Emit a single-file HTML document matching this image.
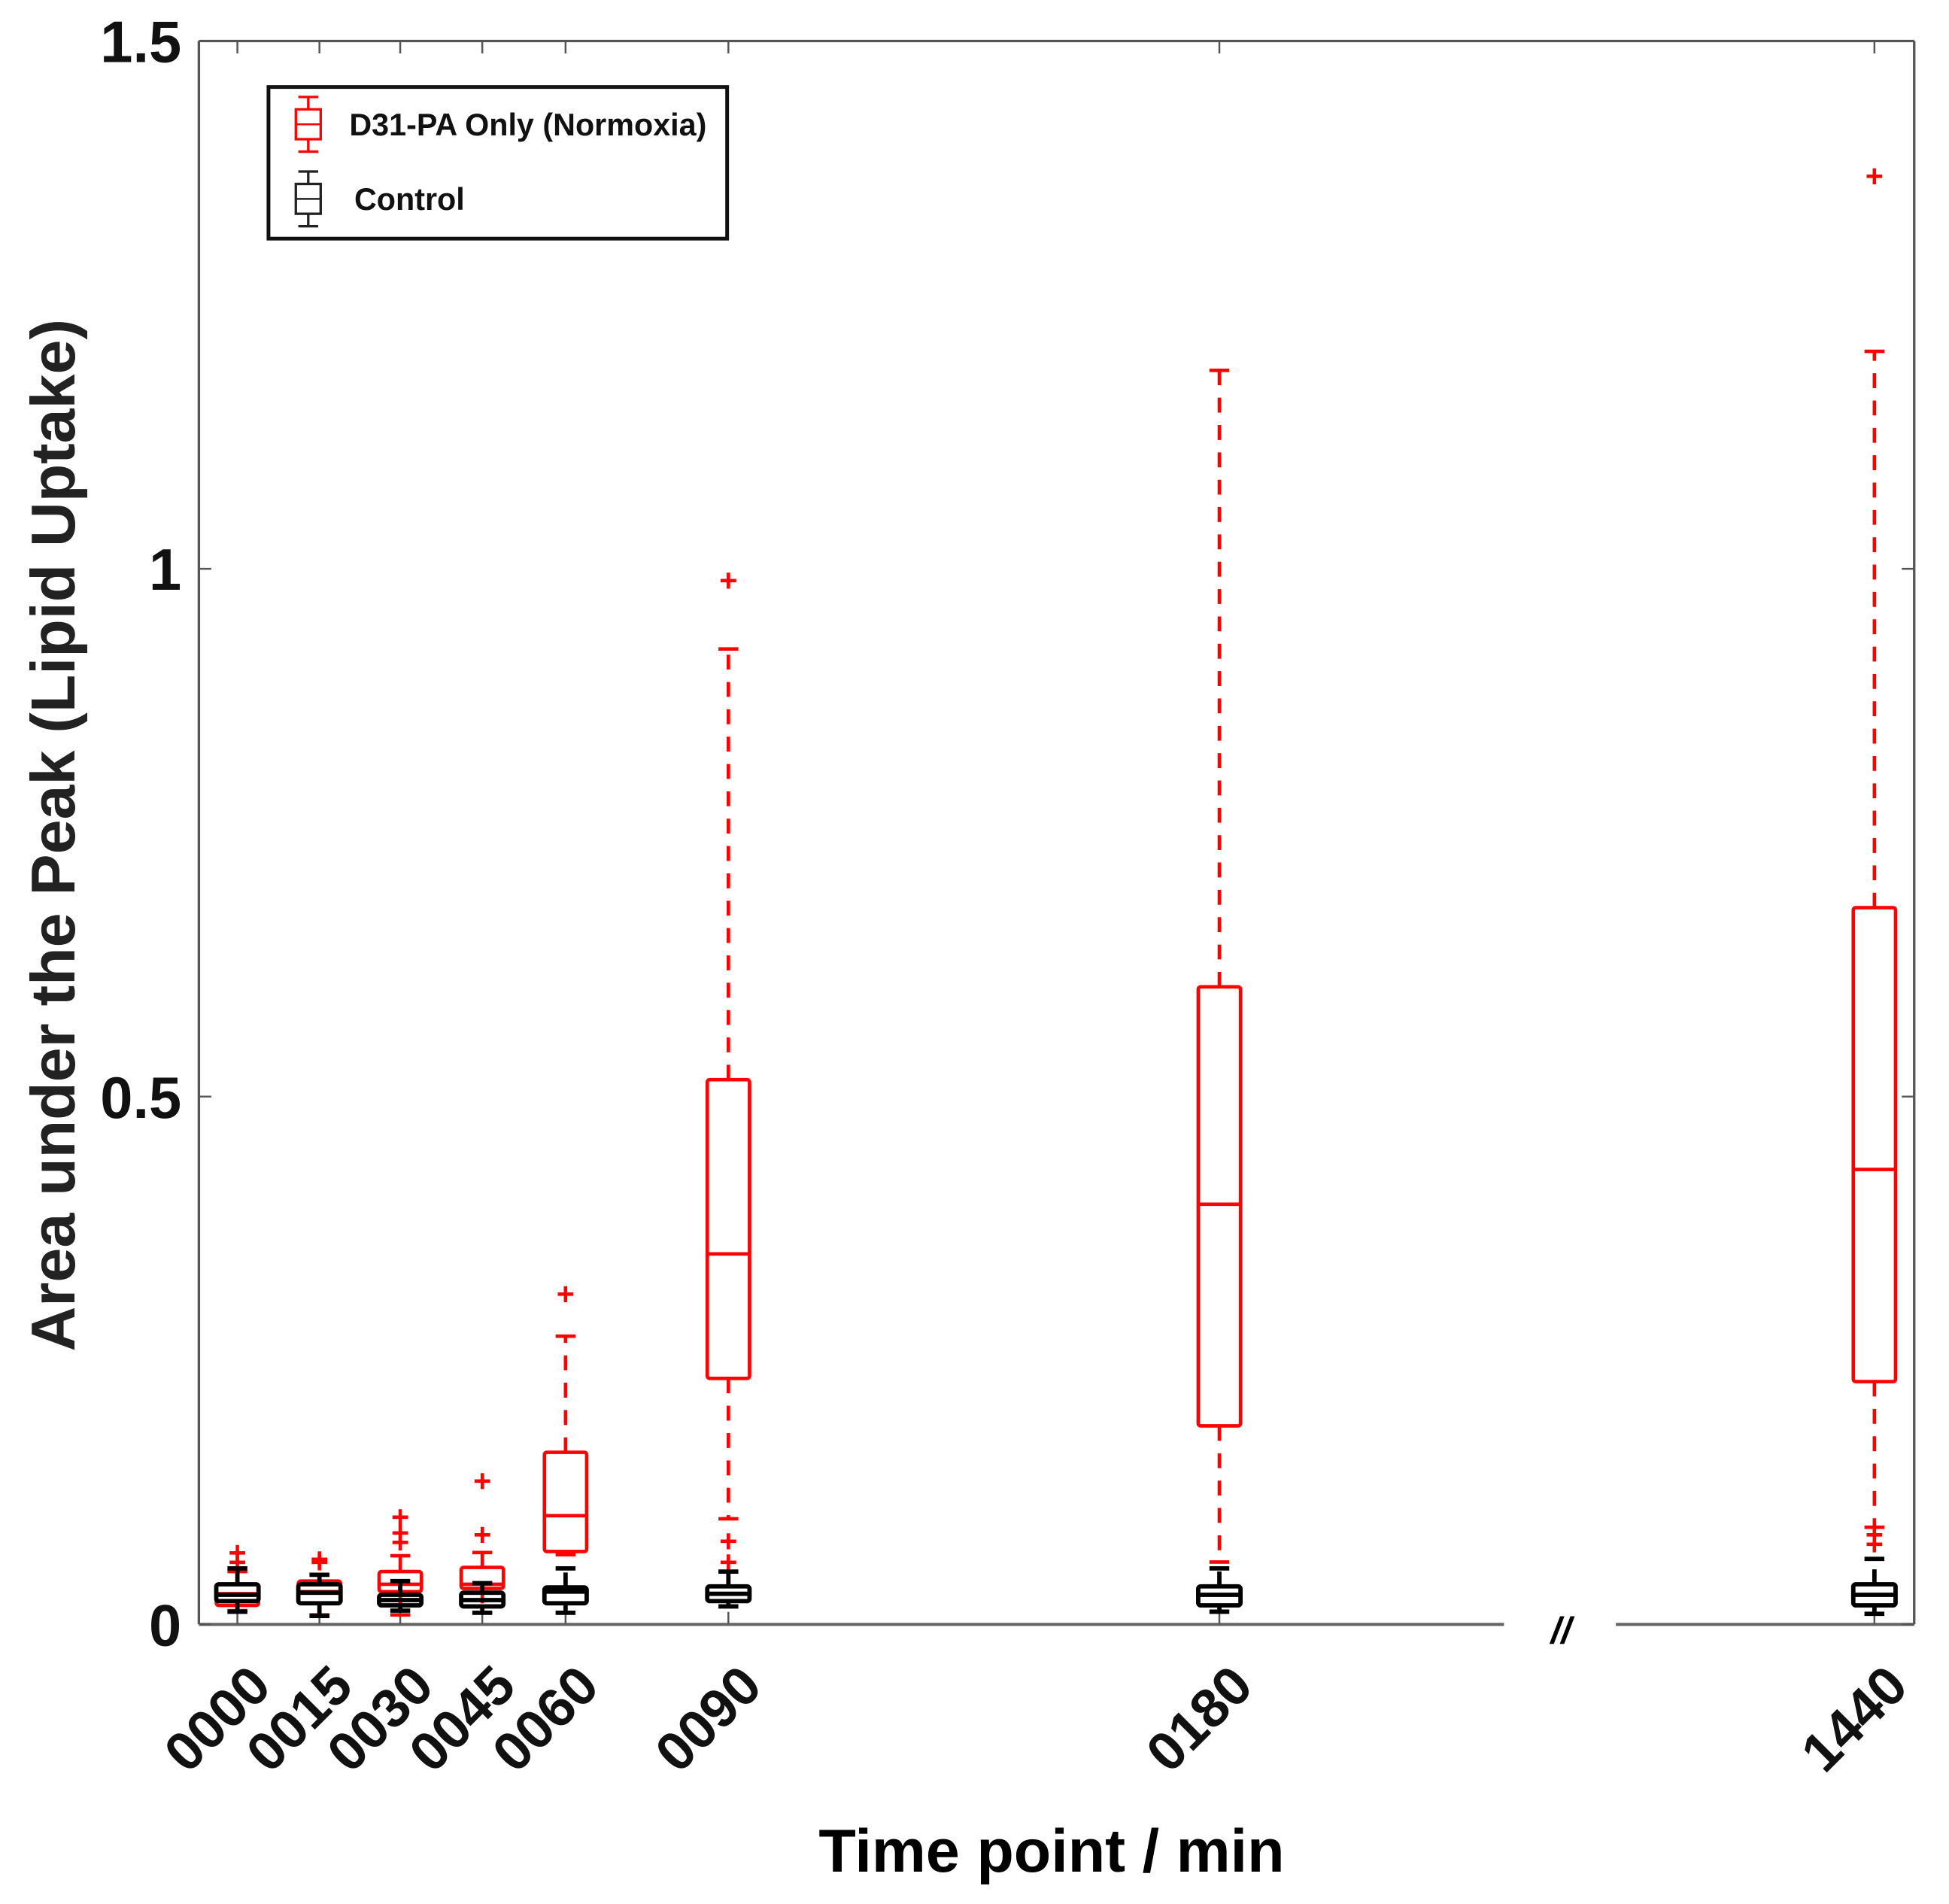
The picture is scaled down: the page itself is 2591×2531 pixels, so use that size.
<!DOCTYPE html>
<html><head><meta charset="utf-8"><style>
html,body{margin:0;padding:0;background:#fff;}
svg{display:block;}
text{font-family:"Liberation Sans",Arial,sans-serif;font-weight:bold;}
</style></head><body>
<svg id="chart" width="2591" height="2531" viewBox="0 0 1568 1532" preserveAspectRatio="none" xmlns="http://www.w3.org/2000/svg">
<g id="plot"></g>
</svg>
<script>
const categories = ["0000","0015","0030","0045","0060","0090","0180","1440"];
const catPos = [191,257,322,388,455,586,981,1508];
// red series: [lowWhisker, q1, median, q3, highWhisker]
const redStats = [
 [0.013,0.018,0.029,0.038,0.050],
 [0.009,0.020,0.031,0.041,0.047],
 [0.009,0.031,0.038,0.050,0.065],
 [0.011,0.034,0.038,0.054,0.068],
 [0.066,0.069,0.103,0.163,0.273],
 [0.100,0.233,0.351,0.516,0.924],
 [0.059,0.188,0.398,0.604,1.188],
 [0.092,0.230,0.431,0.679,1.206]
];
const redOutliers = [
 [0.067,0.058],[0.061,0.058],[0.101,0.086,0.077],[0.135,0.084],[0.312],[0.988,0.078,0.058],[],[1.371,0.084,0.075]
];
const blackStats = [
 [0.012,0.022,0.028,0.038,0.053],
 [0.008,0.020,0.030,0.038,0.047],
 [0.013,0.018,0.023,0.028,0.041],
 [0.011,0.017,0.023,0.030,0.039],
 [0.011,0.020,0.031,0.035,0.053],
 [0.017,0.022,0.029,0.036,0.050],
 [0.012,0.018,0.028,0.036,0.053],
 [0.010,0.018,0.028,0.038,0.062]
];
const yTicks = [0,0.5,1,1.5];
const yTickLabels = ["0","0.5","1","1.5"];

const NS="http://www.w3.org/2000/svg";
const g=document.getElementById('plot');
const X0=160,X1=1540,Y0=1307,Y1=33,YMAX=1.5;
function yS(v){return Y0-(v/YMAX)*(Y0-Y1);}
function xS(i){return catPos[i];}
function mk(tag,attrs,parent){const e=document.createElementNS(NS,tag);for(const k in attrs)e.setAttribute(k,attrs[k]);(parent||g).appendChild(e);return e;}

let e;
e=mk('line',{x1:X0,y1:Y1,x2:X1,y2:Y1,stroke:'#555','stroke-width':2});


e=mk('line',{x1:X0,y1:Y1,x2:X0,y2:Y0,stroke:'#555','stroke-width':2});


e=mk('line',{x1:X1,y1:Y1,x2:X1,y2:Y0,stroke:'#555','stroke-width':2});


e=mk('line',{x1:X0,y1:Y0,x2:1210,y2:Y0,stroke:'#666','stroke-width':2.5});


e=mk('line',{x1:1300,y1:Y0,x2:X1,y2:Y0,stroke:'#666','stroke-width':2.5});


e=mk('text',{x:1256,y:1322,'font-size':30,'text-anchor':'middle','font-style':'italic','font-weight':'normal',fill:'#000'});
e.textContent='//';



yTicks.forEach((v,i)=>{
  const y=yS(v);
  let t=mk('line',{x1:X0,y1:y,x2:X0+10,y2:y,stroke:'#555','stroke-width':1.5});
  
  
  t=mk('line',{x1:X1,y1:y,x2:X1-10,y2:y,stroke:'#555','stroke-width':1.5});
  
  
  t=mk('text',{x:146,y:y+17,'font-size':47,'text-anchor':'end',fill:'#111'});
  t.textContent=yTickLabels[i];
  
  
});

categories.forEach((c,i)=>{
  const x=xS(i);
  let t=mk('line',{x1:x,y1:Y1,x2:x,y2:Y1+10,stroke:'#555','stroke-width':1.5});
  
  
  t=mk('line',{x1:x,y1:Y0,x2:x,y2:Y0-10,stroke:'#555','stroke-width':1.5});
  
  
  t=mk('text',{x:0,y:0,'font-size':44,'text-anchor':'end',fill:'#111',transform:`translate(${x+29},${Y0+52}) rotate(-45)`});
  t.textContent=c;
  
  
});

function drawBox(s,i,color,sw,name){
  const x=xS(i),hw=17,cw=8;
  const grp=mk('g',{});
  
  
  mk('line',{x1:x,y1:yS(s[3]),x2:x,y2:yS(s[4]),stroke:color,'stroke-width':sw,'stroke-dasharray':'12,10'},grp);
  mk('line',{x1:x,y1:yS(s[1]),x2:x,y2:yS(s[0]),stroke:color,'stroke-width':sw,'stroke-dasharray':'12,10'},grp);
  mk('line',{x1:x-cw,y1:yS(s[4]),x2:x+cw,y2:yS(s[4]),stroke:color,'stroke-width':sw},grp);
  mk('line',{x1:x-cw,y1:yS(s[0]),x2:x+cw,y2:yS(s[0]),stroke:color,'stroke-width':sw},grp);
  mk('rect',{x:x-hw,y:yS(s[3]),width:2*hw,height:Math.max(1,yS(s[1])-yS(s[3])),fill:'none',stroke:color,'stroke-width':sw,rx:2},grp);
  mk('line',{x1:x-hw,y1:yS(s[2]),x2:x+hw,y2:yS(s[2]),stroke:color,'stroke-width':sw},grp);
  return grp;
}
redStats.forEach((s,i)=>{
  drawBox(s,i,'#ff0000',2.8,'red-box-'+categories[i]);
  redOutliers[i].forEach(v=>{
    const o=mk('text',{x:xS(i),y:yS(v)+8,'font-size':25,'text-anchor':'middle',fill:'#ff0000'});
    o.textContent='+';
    
    
  });
});
blackStats.forEach((s,i)=>{drawBox(s,i,'#000',3.5,'control-box-'+categories[i]);});

e=mk('text',{x:0,y:0,'font-size':50,'text-anchor':'middle',fill:'#222',transform:'translate(60,672) rotate(-90)'});
e.textContent='Area under the Peak (Lipid Uptake)';


e=mk('text',{x:846,y:1506,'font-size':49,'text-anchor':'middle',fill:'#000'});
e.textContent='Time point / min';



const lg=mk('g',{});


mk('rect',{x:216,y:70,width:369,height:122,fill:'#fff',stroke:'#111','stroke-width':3},lg);
function legIcon(x,yc,color){
  mk('line',{x1:x-8,y1:yc-22,x2:x+8,y2:yc-22,stroke:color,'stroke-width':2},lg);
  mk('line',{x1:x,y1:yc-22,x2:x,y2:yc-12,stroke:color,'stroke-width':2},lg);
  mk('rect',{x:x-10,y:yc-12,width:20,height:24,fill:'none',stroke:color,'stroke-width':2},lg);
  mk('line',{x1:x-10,y1:yc,x2:x+10,y2:yc,stroke:color,'stroke-width':1.5},lg);
  mk('line',{x1:x,y1:yc+12,x2:x,y2:yc+22,stroke:color,'stroke-width':2},lg);
  mk('line',{x1:x-8,y1:yc+22,x2:x+8,y2:yc+22,stroke:color,'stroke-width':2},lg);
}
legIcon(248,100,'#ff0000');
legIcon(248,160,'#222');
e=mk('text',{x:281,y:109,'font-size':25,fill:'#111'},lg);
e.textContent='D31-PA Only (Normoxia)';


e=mk('text',{x:285,y:169,'font-size':25,fill:'#111'},lg);
e.textContent='Control';


</script>
</body></html>
